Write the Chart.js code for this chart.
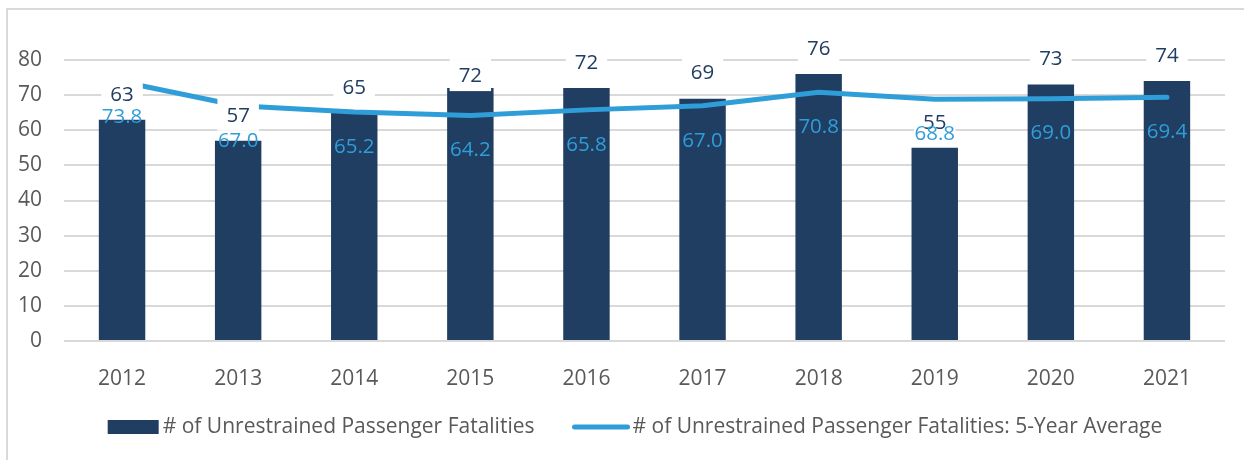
<!DOCTYPE html>
<html>
<head>
<meta charset="utf-8">
<script src="https://cdn.jsdelivr.net/npm/chart.js@4.4.0/dist/chart.umd.min.js"></script>
<style>
  html, body { margin: 0; padding: 0; background: #fff; }
  #wrap { position: relative; width: 1244px; height: 460px; }
  #frame { position: absolute; left: 6px; top: 8px; width: 1250px; height: 470px;
           border-left: 2px solid #D9D9D9; border-top: 2px solid #D9D9D9; }
  canvas { position: absolute; left: 0; top: 0; }
</style>
</head>
<body>
<div id="wrap">
  <div id="frame"></div>
  <canvas id="chart" width="1244" height="460"></canvas>
</div>
<script>
// --- data ---
const years = ['2012', '2013', '2014', '2015', '2016', '2017', '2018', '2019', '2020', '2021'];
const fatalities = [63, 57, 65, 72, 72, 69, 76, 55, 73, 74];
const fiveYearAvg = [73.8, 67.0, 65.2, 64.2, 65.8, 67.0, 70.8, 68.8, 69.0, 69.4];
const yTicks = [0, 10, 20, 30, 40, 50, 60, 70, 80];

const barName = '# of Unrestrained Passenger Fatalities';
const lineName = '# of Unrestrained Passenger Fatalities: 5-Year Average';

const NAVY = '#203D62';
const BLUE = '#2F9ED8';
const GREY = '#595959';
const FONT = '"Open Sans", sans-serif';

// value labels (bar labels sit in white boxes, like the Excel original)
const valueLabels = {
    id: 'valueLabels',
    afterDatasetsDraw(chart) {
        const ctx = chart.ctx;
        const bars = chart.getDatasetMeta(0).data;
        const pts = chart.getDatasetMeta(1).data;
        ctx.save();
        ctx.font = '20.5px ' + FONT;
        ctx.textAlign = 'center';
        ctx.textBaseline = 'middle';

        bars.forEach((bar, i) => {
            const txt = String(fatalities[i]);
            const lift = i === 3 ? 13 : 26;   // 2015 label sits lower in the original
            const y = bar.y - lift;
            const w = ctx.measureText(txt).width + 18;
            ctx.fillStyle = '#fff';
            ctx.fillRect(bar.x - w / 2, y - 16, w, 32);
            ctx.fillStyle = NAVY;
            ctx.fillText(txt, bar.x, y + 1);
        });

        pts.forEach((p, i) => {
            ctx.fillStyle = BLUE;
            ctx.fillText(fiveYearAvg[i].toFixed(1), p.x, p.y + 35);
        });
        ctx.restore();
    }
};

// legend drawn by hand: wide box for the bars, short thick line for the average
const bottomLegend = {
    id: 'bottomLegend',
    afterDraw(chart) {
        const ctx = chart.ctx;
        ctx.save();
        ctx.font = '21px ' + FONT;
        ctx.textBaseline = 'middle';
        const y = 427;
        const w1 = ctx.measureText(barName).width;
        const w2 = ctx.measureText(lineName).width;
        const total = 51 + 4 + w1 + 38 + 57 + 3 + w2;
        let x = 635 - total / 2;

        ctx.fillStyle = NAVY;
        ctx.fillRect(x, y - 7, 51, 14);
        x += 55;
        ctx.fillStyle = GREY;
        ctx.fillText(barName, x, y);
        x += w1 + 38;

        ctx.strokeStyle = BLUE;
        ctx.lineWidth = 5;
        ctx.lineCap = 'round';
        ctx.beginPath();
        ctx.moveTo(x + 2, y);
        ctx.lineTo(x + 55, y);
        ctx.stroke();
        x += 60;
        ctx.fillStyle = GREY;
        ctx.fillText(lineName, x, y);
        ctx.restore();
    }
};

new Chart(document.getElementById('chart'), {
    data: {
        labels: years,
        datasets: [
            {
                type: 'bar',
                label: barName,
                data: fatalities,
                backgroundColor: NAVY,
                categoryPercentage: 1,
                barPercentage: 0.4,
                order: 1
            },
            {
                type: 'line',
                label: lineName,
                data: fiveYearAvg,
                borderColor: BLUE,
                borderWidth: 5,
                borderCapStyle: 'round',
                pointRadius: 0,
                tension: 0,
                order: 0
            }
        ]
    },
    options: {
        responsive: false,
        animation: false,
        events: [],
        layout: { padding: { top: 60, right: 19, left: 0, bottom: 0 } },
        plugins: { legend: { display: false }, tooltip: { enabled: false } },
        scales: {
            x: {
                grid: { display: false },
                border: { display: false },
                ticks: { color: GREY, font: { family: FONT, size: 21 }, padding: 17 },
                afterFit(s) { s.height = 119; }
            },
            y: {
                min: 0,
                max: 80,
                afterBuildTicks(s) { s.ticks = yTicks.map(v => ({ value: v })); },
                grid: { color: '#D9D9D9', lineWidth: 2, drawTicks: false },
                border: { display: false },
                ticks: { color: GREY, font: { family: FONT, size: 21 }, padding: 22 },
                afterFit(s) { s.width = 64; }
            }
        }
    },
    plugins: [valueLabels, bottomLegend]
});
</script>
</body>
</html>
